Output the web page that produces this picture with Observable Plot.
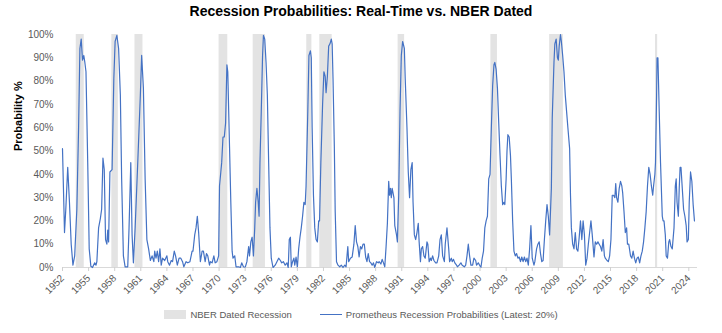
<!DOCTYPE html>
<html>
<head>
<meta charset="utf-8">
<script src="https://cdn.jsdelivr.net/npm/d3@7"></script>
<script src="https://cdn.jsdelivr.net/npm/@observablehq/plot@0.6"></script>
<style>
  body { margin: 0; background: #fff; width: 722px; height: 333px; overflow: hidden; font-family: "Liberation Sans", Arial, sans-serif; }
  #title { height: 22px; line-height: 22px; text-align: center; font-weight: bold; font-size: 14px; color: #000; }
  #legend { position: absolute; left: 0; top: 309px; width: 722px; display: flex; justify-content: center; align-items: center; gap: 28px; font-size: 9.5px; color: #595959; }
  .item { display: flex; align-items: center; gap: 4px; }
  .sw-rect { width: 22px; height: 9px; background: #e3e3e3; }
  .sw-line { width: 22px; height: 1.4px; background: #4472C4; }
</style>
</head>
<body>
<div id="title">Recession Probabilities: Real-Time vs. NBER Dated</div>
<div id="chart"></div>
<div id="legend">
  <div class="item"><div class="sw-rect"></div><span>NBER Dated Recession</span></div>
  <div class="item"><div class="sw-line"></div><span>Prometheus Recession Probabilities (Latest: 20%)</span></div>
</div>
<script>
// NBER dated recessions (decimal years)
const recessionStart = [1953.58, 1957.67, 1960.33, 1970.0, 1973.92, 1980.08, 1981.58, 1990.58, 2001.25, 2008.0, 2020.17];
const recessionEnd   = [1954.5, 1958.42, 1961.25, 1971.0, 1975.33, 1980.67, 1983.0, 1991.33, 2002.0, 2009.58, 2020.42];

// Prometheus recession probabilities (decimal year, %)
const probYears = [
1952.0,1952.23,1952.38,1952.6,1952.8,1953.0,1953.2,1953.4,1953.65,1953.85,1954.0,1954.15,1954.3,1954.45,1954.57,1954.7,1954.9,1955.07,1955.26,1955.45,1955.7,1955.85,1955.95,1956.15,1956.35,1956.5,1956.65,1956.8,1956.95,1957.1,1957.2,1957.3,1957.45,1957.7,1957.9,1958.05,1958.25,1958.45,1958.65,1958.8,1959.0,1959.2,1959.5,1959.65,1959.85,1960.0,1960.15,1960.35,1960.65,1960.95,1961.1,1961.3,1961.5,1961.7,1961.9,
1962.1,1962.3,1962.5,1962.6,1962.75,1962.9,1963.05,1963.2,1963.35,1963.5,1963.75,1964.0,1964.1,1964.3,1964.5,1964.65,1964.85,1965.0,1965.2,1965.4,1965.6,1965.8,1965.95,1966.2,1966.4,1966.65,1966.9,1967.0,1967.2,1967.35,1967.5,1967.65,1967.85,1968.05,1968.2,1968.4,1968.55,1968.7,1968.9,1969.0,1969.2,1969.4,1969.55,1969.75,1969.95,1970.05,1970.2,1970.3,1970.45,1970.6,1970.75,1970.9,1971.0,1971.2,1971.35,1971.5,1971.6,1971.8,1971.95,
1972.25,1972.45,1972.6,1972.8,1973.0,1973.2,1973.4,1973.5,1973.65,1973.8,1973.95,1974.1,1974.2,1974.35,1974.5,1974.6,1974.7,1974.85,1975.0,1975.1,1975.25,1975.4,1975.55,1975.7,1975.85,1976.0,1976.2,1976.45,1976.65,1976.85,1977.05,1977.2,1977.4,1977.6,1977.8,1977.95,1978.07,1978.2,1978.3,1978.45,1978.6,1978.7,1978.85,1979.0,1979.15,1979.3,1979.45,1979.6,1979.75,1979.9,1980.0,1980.2,1980.33,1980.5,1980.6,1980.7,1980.85,1981.0,1981.15,1981.3,1981.45,1981.55,1981.7,1981.9,1982.05,1982.2,1982.3,1982.45,1982.6,1982.75,1982.9,1983.0,
1983.1,1983.25,1983.35,1983.5,1983.67,1983.87,1984.05,1984.25,1984.45,1984.6,1984.8,1984.9,1985.1,1985.3,1985.5,1985.65,1985.8,1985.95,1986.1,1986.25,1986.4,1986.55,1986.7,1986.85,1987.0,1987.15,1987.3,1987.45,1987.6,1987.75,1987.9,1988.1,1988.3,1988.4,1988.6,1988.75,1988.9,1989.05,1989.2,1989.35,1989.5,1989.6,1989.7,1989.8,1989.9,1990.1,1990.2,1990.4,1990.5,1990.65,1990.8,1990.95,1991.1,1991.3,1991.4,1991.6,1991.75,1991.9,1992.05,1992.2,1992.3,1992.45,1992.6,1992.75,1992.9,1993.0,
1993.15,1993.25,1993.4,1993.55,1993.7,1993.9,1994.0,1994.15,1994.3,1994.4,1994.55,1994.7,1994.9,1995.05,1995.25,1995.4,1995.55,1995.7,1995.9,1996.0,1996.2,1996.4,1996.5,1996.7,1996.8,1996.95,1997.1,1997.3,1997.4,1997.6,1997.8,1997.95,1998.2,1998.35,1998.5,1998.65,1998.8,1998.95,1999.15,1999.3,1999.5,1999.6,1999.8,1999.95,2000.1,2000.25,2000.4,2000.55,2000.7,2000.85,2001.0,2001.15,2001.3,2001.45,2001.6,2001.7,2001.85,2002.0,2002.15,2002.3,2002.45,2002.6,2002.75,2002.85,2003.0,2003.1,2003.2,2003.35,2003.5,2003.6,2003.75,2003.9,
2004.05,2004.2,2004.35,2004.5,2004.65,2004.8,2004.95,2005.1,2005.25,2005.4,2005.55,2005.7,2005.85,2006.0,2006.2,2006.3,2006.5,2006.65,2006.8,2006.95,2007.1,2007.25,2007.4,2007.55,2007.7,2007.85,2008.0,2008.2,2008.3,2008.5,2008.6,2008.75,2008.9,2009.0,2009.1,2009.25,2009.35,2009.5,2009.65,2009.8,2009.95,2010.1,2010.3,2010.4,2010.5,2010.65,2010.8,2010.95,2011.1,2011.25,2011.4,2011.55,2011.7,2011.85,2012.0,2012.15,2012.3,2012.45,2012.6,2012.75,2012.9,2013.1,2013.25,2013.4,2013.55,2013.7,2013.85,
2014.0,2014.15,2014.3,2014.4,2014.6,2014.75,2014.9,2015.05,2015.2,2015.35,2015.5,2015.6,2015.7,2015.85,2016.0,2016.15,2016.3,2016.4,2016.55,2016.7,2016.85,2016.95,2017.1,2017.3,2017.45,2017.6,2017.75,2017.9,2018.05,2018.2,2018.35,2018.5,2018.65,2018.8,2018.95,2019.1,2019.25,2019.4,2019.55,2019.7,2019.85,2019.95,2020.1,2020.17,2020.3,2020.35,2020.45,2020.6,2020.75,2020.95,2021.05,2021.15,2021.3,2021.4,2021.55,2021.7,2021.8,2021.95,2022.1,2022.3,2022.45,2022.55,2022.65,2022.8,2022.9,2023.0,2023.1,2023.25,2023.4,2023.55,2023.7,2023.8,2023.95,2024.05,2024.2,2024.35,2024.5,2024.65
];
const probValues = [
51,15,25,43,28,10,1,5,25,60,94,98,89,91,88,84,45,8,0.5,0,2,1,2.5,17,21,25,47,42,12,10,16,11,41,42,81,97,99.6,94,74,38,5,0.3,0.3,17,45,14,2,17,45,74,91,77,38,12,8,
3,5,2.5,7,4,7,2.5,8,1,4,3,5,2.5,1,3,2.5,7,5,1,4,4,2.5,0.3,2.5,2,2.5,7,7,14,17,22,15,2.5,7,7,2.5,6,5,1,2.5,2,5,2,2.5,5,35,41,45,56,56,62,87,84,52,28,7,4,5,0.3,
0.3,0,2,0.3,0,2.5,9,5,11,13,5,17,28,34,28,22,45,67,91,99.6,98,88,74,45,17,4,0,1,2.5,4,3,2,2.5,1,2,0,12,13,0.3,2.5,4,1,4.5,0,8,13,17,22,28,27,35,67,91,93,90,60,31,17,12,11,20,20,45,70,84,82,75,82,95,96,98,96,
81,52,24,2.5,1,0.3,1,0,1,0.3,9,2.5,4,4.5,10,18,11,9,4.5,9,8,10,10,4.5,2.5,6,2.5,2,1,2,0,2.5,2,2.5,1.5,3.5,2,0.3,9,19,37,31,34,30,34,30,18,14,11,31,67,91,97,94,81,60,41,30,42,45,28,14,12,15,19,11,
2.5,8,9,5,4,11,10,2.5,4,3,5,3,2,2,5,12,14,5,2.5,10,17,8,2.5,4,2.5,3.5,2,1,0.3,1,2,1,0.3,1,5,10,5,1,1,4,3,1,2,1,0,4,7,17,20,22,38,40,60,78,87,88,85,77,62,48,35,27,28,27,38,50,57,56,48,38,20,7,
5,6,4,4.5,2.5,4.5,2.5,4.5,2.5,4,1,8,18,4,1,2.5,8,10,11,6,2.5,3,12,20,27,22,14,34,64,88,96,98,90,89,95,100,97,91,84,74,67,60,51,31,17,10,8,15,8,7,13,20,12,20,14,1,4,10,15,20,14,4.5,11,10,11,10,9,
7,12,5,4,3,2.5,5,12,31,31,30,36,30,28,34,37,35,32,24,15,17,10,10,5,4,7,4,2,4,4.5,2,5,7,11,17,24,35,43,40,35,31,35,40,45,74,90,90,67,45,22,20,20,14,5,4,11,12,9,8,17,35,38,28,22,34,43,43,34,25,22,18,11,12,28,41,37,27,20
];

// X-axis tick labels
const xTickYears = d3.range(1952, 2025, 3);
// Y-axis ticks
const yTicks = d3.range(0, 101, 10);

const probData = probYears.map((y, i) => ({year: y, p: probValues[i]}));
const recData = recessionStart.map((s, i) => ({start: s, end: recessionEnd[i]}));

const chart = Plot.plot({
  width: 722,
  height: 282,
  marginTop: 12,
  marginBottom: 37,
  marginLeft: 62,
  marginRight: 25,
  style: {fontFamily: "'Liberation Sans', Arial, sans-serif", fontSize: "10px", color: "#595959", background: "#fff", overflow: "visible"},
  x: {domain: [1952, 2025], label: null},
  y: {domain: [0, 100], label: null},
  marks: [
    Plot.rect(recData, {x1: "start", x2: "end", fill: "#e3e3e3"}),
    Plot.ruleY([0], {stroke: "#d9d9d9", strokeWidth: 1}),
    Plot.line(probData, {x: "year", y: "p", stroke: "#4472C4", strokeWidth: 1.2}),
    Plot.axisX({ticks: xTickYears, tickFormat: d => String(d), tickRotate: -45, tickSize: 4, tickPadding: 5, stroke: "#d0d0d0", fill: "#595959", label: null}),
    Plot.axisY({ticks: yTicks, tickFormat: d => d + "%", tickSize: 0, tickPadding: 9, fill: "#595959", label: null}),
    Plot.text(["Probability %"], {frameAnchor: "left", dx: -44, rotate: -90, fontWeight: "bold", fontSize: 11, fill: "#000"})
  ]
});
document.getElementById("chart").appendChild(chart);
</script>
</body>
</html>
